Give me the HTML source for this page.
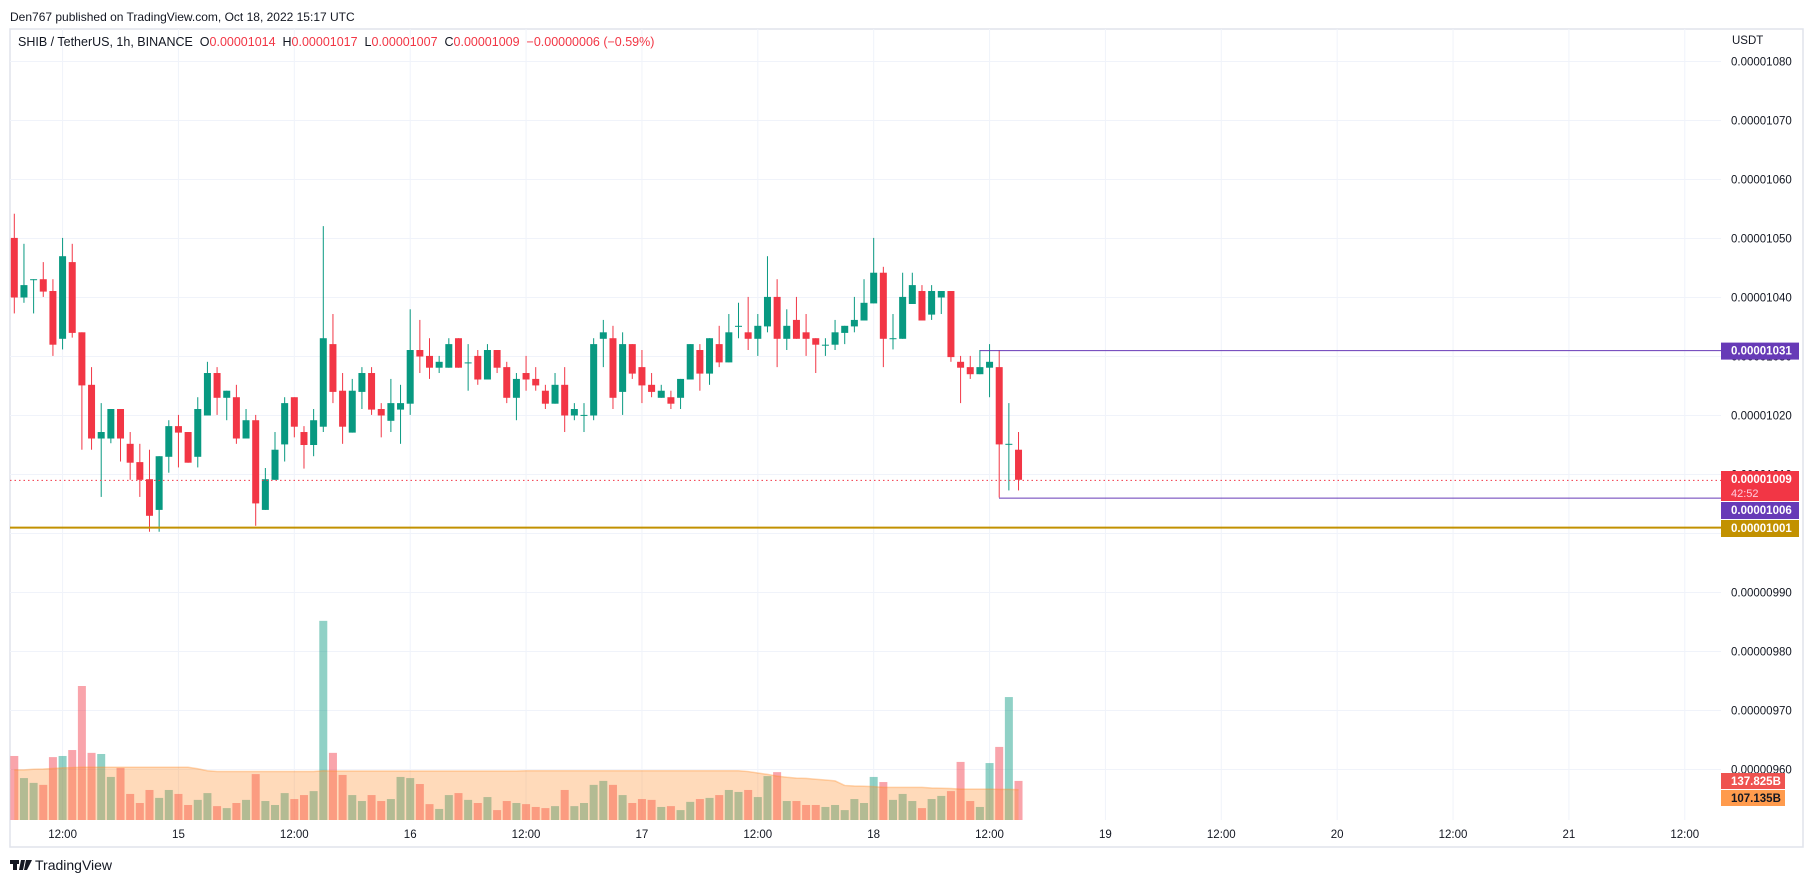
<!DOCTYPE html>
<html><head><meta charset="utf-8"><style>
html,body{margin:0;padding:0;background:#fff;width:1813px;height:883px;overflow:hidden;font-family:"Liberation Sans",sans-serif;}
svg text{font-family:"Liberation Sans",sans-serif;white-space:pre;}
</style></head><body>
<svg id="chart" width="1813" height="883" xmlns="http://www.w3.org/2000/svg">
<text x="10" y="21" font-size="12" fill="#131722">Den767 published on TradingView.com, Oct 18, 2022 15:17 UTC</text>
<rect x="10" y="29" width="1793" height="818" fill="none" stroke="#e0e3eb" stroke-width="1.5"/>
<g id="grid"></g>
<g id="vol"></g>
<g id="candles"></g>
<g id="lines"></g>
<g id="axis"></g>
<g id="taxis"></g>
<text x="18" y="46" font-size="12.5" fill="#131722" xml:space="preserve">SHIB / TetherUS, 1h, BINANCE  O<tspan fill="#f23645">0.00001014</tspan>  H<tspan fill="#f23645">0.00001017</tspan>  L<tspan fill="#f23645">0.00001007</tspan>  C<tspan fill="#f23645">0.00001009  −0.00000006 (−0.59%)</tspan></text>
<text x="1732" y="44" font-size="11.5" fill="#131722">USDT</text>
<g><rect x="10" y="860" width="9" height="4" fill="#131722"/><rect x="13" y="860" width="4" height="10" fill="#131722"/><polygon points="21,860 25,860 23,870 19,870" fill="#131722"/><polygon points="26,860 32,860 27,870 24,870" fill="#131722"/><text x="35" y="870" font-size="14" fill="#131722">TradingView</text></g>
</svg>
<script>
const opens=[1050.1,1040.0,1043.1,1043.1,1041.1,1033.0,1046.0,1034.1,1025.2,1016.1,1016.1,1021.1,1015.2,1012.1,1009.2,1004.0,1013.0,1018.2,1017.2,1013.0,1020.0,1027.2,1023.0,1023.1,1016.1,1019.2,1004.0,1009.1,1015.1,1023.1,1017.2,1015.0,1018.1,1032.1,1024.2,1017.1,1024.0,1027.2,1021.1,1019.1,1021.0,1022.0,1031.1,1030.1,1028.1,1028.1,1033.1,1029.0,1030.1,1026.1,1031.1,1028.2,1023.0,1027.2,1026.2,1024.2,1022.0,1025.2,1020.0,1020.1,1020.0,1033.0,1033.1,1024.0,1032.1,1028.2,1025.2,1023.0,1023.1,1023.0,1026.1,1031.1,1027.1,1032.1,1029.0,1035.2,1034.1,1033.0,1035.1,1040.1,1033.0,1036.2,1034.1,1033.1,1032.0,1032.0,1034.0,1035.1,1036.1,1039.0,1044.2,1033.1,1033.0,1038.9,1041.1,1037.1,1040.0,1041.1,1029.1,1028.2,1027.0,1028.1,1028.2,1015.2,1014.2];
const highs=[1054.2,1049.1,1043.1,1046.0,1043.1,1050.1,1049.1,1034.1,1028.2,1022.1,1021.1,1021.1,1017.2,1015.2,1014.2,1013.1,1019.2,1020.1,1017.2,1023.1,1029.1,1028.2,1024.2,1025.2,1021.1,1020.1,1011.1,1017.2,1023.1,1023.1,1018.2,1021.1,1052.1,1037.2,1027.2,1026.2,1028.2,1028.2,1022.1,1026.2,1025.2,1038.0,1036.2,1033.1,1030.1,1033.1,1033.1,1032.1,1031.1,1032.1,1031.1,1029.1,1027.2,1030.1,1028.2,1025.2,1027.2,1028.2,1022.1,1022.1,1033.1,1036.2,1035.2,1034.1,1032.1,1031.1,1027.2,1025.2,1024.2,1026.2,1032.1,1032.1,1033.1,1035.2,1037.2,1039.1,1040.1,1037.2,1047.0,1043.1,1038.0,1040.1,1037.2,1033.1,1033.1,1036.2,1035.2,1040.1,1043.1,1050.1,1045.2,1037.2,1044.2,1044.2,1042.1,1042.1,1041.1,1041.1,1030.1,1030.1,1031.1,1032.1,1031.1,1022.1,1017.2];
const lows=[1037.3,1039.1,1037.3,1040.1,1030.1,1031.2,1033.2,1014.2,1014.2,1006.2,1015.3,1012.2,1009.1,1006.2,1000.3,1000.3,1010.3,1011.2,1012.0,1011.2,1020.0,1020.1,1019.2,1015.2,1016.1,1001.3,1004.0,1009.1,1012.2,1016.3,1011.0,1013.1,1017.2,1022.1,1015.2,1017.1,1021.1,1020.1,1016.3,1017.2,1015.2,1020.1,1027.2,1026.2,1027.2,1028.1,1028.1,1024.2,1025.2,1026.1,1027.2,1022.1,1019.2,1024.2,1024.2,1021.1,1022.0,1017.2,1019.2,1017.2,1019.2,1028.2,1021.1,1020.1,1026.2,1022.1,1023.1,1023.0,1021.1,1021.1,1026.1,1024.2,1025.2,1028.2,1029.0,1033.1,1031.1,1030.1,1034.1,1028.2,1031.1,1033.0,1030.1,1027.2,1030.1,1031.1,1032.1,1034.1,1036.1,1039.0,1028.2,1031.2,1033.0,1038.9,1036.1,1036.2,1037.2,1029.1,1022.1,1026.2,1027.0,1023.1,1006.1,1007.3,1007.3];
const closes=[1040.0,1042.1,1043.1,1041.0,1032.0,1047.0,1034.0,1025.1,1016.1,1017.2,1021.1,1016.1,1012.0,1009.1,1003.0,1013.1,1018.2,1017.1,1012.0,1021.1,1027.2,1023.0,1024.2,1016.1,1019.2,1005.1,1009.2,1014.2,1022.1,1018.1,1015.0,1019.2,1033.1,1024.0,1018.1,1024.2,1027.2,1021.0,1020.0,1022.1,1022.1,1031.1,1030.0,1028.1,1029.1,1032.1,1028.1,1029.0,1026.1,1031.1,1028.1,1023.0,1026.2,1026.1,1025.1,1022.0,1025.2,1020.0,1021.1,1020.1,1032.1,1034.1,1023.0,1032.1,1027.1,1025.1,1024.0,1024.2,1022.0,1026.2,1032.1,1027.1,1033.1,1029.0,1034.1,1035.2,1033.0,1035.2,1040.1,1033.0,1035.2,1033.0,1033.0,1032.0,1032.0,1034.1,1035.2,1036.2,1039.1,1044.2,1033.0,1033.1,1040.1,1042.1,1036.1,1041.1,1041.1,1029.9,1028.1,1027.0,1028.2,1029.1,1015.1,1015.2,1009.1];
const volumes=[226,148,131,124,222,226,247,473,237,233,152,184,92,60,106,78,106,92,53,71,95,49,42,60,71,162,67,53,95,74,88,102,703,237,159,88,67,88,67,74,152,148,127,56,39,88,95,71,60,81,35,67,60,56,46,42,49,106,49,60,124,138,124,88,60,74,71,46,49,35,64,74,78,88,106,99,106,81,155,169,67,67,53,53,46,53,35,74,60,152,134,71,92,67,42,74,85,102,205,67,46,201,258,434,138];
const volMA=[177,177,179,180,182,184,185,186,186,186,186,186,186,186,186,186,186,186,186,181,174,171,171,171,171,171,171,171,171,171,171,171,174,173,173,173,173,173,173,173,173,173,173,173,173,173,173,173,173,173,173,173,173,174,174,174,174,174,174,174,174,174,174,174,174,174,174,174,174,174,174,174,174,174,174,174,171,166,161,155,151,148,147,144,141,138,122,120,119,118,115,115,115,115,115,113,112,111,109,109,109,109,108,108,107];
const priceTicks=[1080,1070,1060,1050,1040,1030,1020,1010,990,980,970,960];
const timeLabels=["12:00","15","12:00","16","12:00","17","12:00","18","12:00","19","12:00","20","12:00","21","12:00"];
const timeLabelHours=[12,24,36,48,60,72,84,96,108,120,132,144,156,168,180];
const firstHour=7;

const NS="http://www.w3.org/2000/svg";
function px(i){return 14.3+9.656*i;}
function hx(h){return 14.3+9.656*(h-firstHour);}
function py(p){return 61.5+(1080-p)*5.9;}
function vy(v){return 820-v/3.53;}
function mk(tag,attrs,parent){const e=document.createElementNS(NS,tag);for(const k in attrs)e.setAttribute(k,attrs[k]);parent.appendChild(e);return e;}
const G=id=>document.getElementById(id);
const GREEN="#089981",RED="#f23645";

const grid=G('grid');
for(const p of priceTicks.concat([1000])){
  const l=mk('line',{x1:10,x2:1721,y1:py(p),y2:py(p),stroke:'#f0f3fa','stroke-width':1},grid);
  
  
}
for(const h of timeLabelHours){
  const l=mk('line',{x1:hx(h),x2:hx(h),y1:29,y2:820,stroke:'#f0f3fa','stroke-width':1},grid);
  
  
}

const vol=G('vol');
for(let i=0;i<volumes.length;i++){
  const up=closes[i]>=opens[i];
  const r=mk('rect',{x:px(i)-4,y:vy(volumes[i]),width:8,height:820-vy(volumes[i]),fill:up?'rgba(8,153,129,0.45)':'rgba(242,54,69,0.45)'},vol);
  
  
}
let d='M'+px(0)+',820';
for(let i=0;i<volMA.length;i++)d+=' L'+px(i)+','+vy(volMA[i]);
d+=' L'+px(volMA.length-1)+',820 Z';
const area=mk('path',{d:d,fill:'rgba(255,140,40,0.32)',stroke:'none'},vol);


let d2='M'+px(0)+','+vy(volMA[0]);
for(let i=1;i<volMA.length;i++)d2+=' L'+px(i)+','+vy(volMA[i]);
const maLine=mk('path',{d:d2,fill:'none',stroke:'rgba(255,140,40,0.35)','stroke-width':1.5},vol);



const cg=G('candles');
for(let i=0;i<opens.length;i++){
  const up=closes[i]>=opens[i];const c=up?GREEN:RED;const x=px(i);
  const g=mk('g',{},cg);
  
  
  mk('line',{x1:x,x2:x,y1:py(highs[i]),y2:py(lows[i]),stroke:c,'stroke-width':1},g);
  const top=py(Math.max(opens[i],closes[i])),bot=py(Math.min(opens[i],closes[i]));
  mk('rect',{x:x-3.5,y:top,width:7,height:Math.max(1,bot-top),fill:c},g);
}

const lg=G('lines');
const pLine=(p,x1,col,w,name,dash)=>{const l=mk('line',{x1:x1,x2:1721,y1:py(p),y2:py(p),stroke:col,'stroke-width':w},lg);if(dash)l.setAttribute('stroke-dasharray',dash);};
pLine(1031,980,'#673ab7',1,'resistance-line');
pLine(1006,999,'#673ab7',1,'low-line');
pLine(1001,10,'#c29100',2,'support-line');
pLine(1009,10,'#f23645',1,'last-price-line','1.5 3');

const ax=G('axis');
for(const p of priceTicks){
  const t=mk('text',{x:1731,y:py(p)+4,'font-size':11.5,fill:'#131722'},ax);
  t.textContent='0.0000'+(p<1000?'0':'')+String(p);
  
  
}
function tag(y,h,bg,txt,col,name,w){
  const g=mk('g',{},ax);
  
  
  mk('rect',{x:1721,y:y,width:w||78,height:h,fill:bg},g);
  const t=mk('text',{x:1731,y:y+12,'font-size':11.5,'font-weight':'bold',fill:col},g);t.textContent=txt;return g;
}
tag(py(1031)-8,17,'#673ab7','0.00001031','#fff','resistance-price-tag');
const lt=tag(471,30,'#f23645','0.00001009','#fff','last-price-tag');
const cd=mk('text',{x:1731,y:497,'font-size':11,fill:'#fcd'},lt);cd.textContent='42:52';
tag(502,17,'#673ab7','0.00001006','#fff','low-price-tag');
tag(520,17,'#c29100','0.00001001','#fff','support-price-tag');
tag(773,16,'#ef5350','137.825B','#fff','volume-tag',64);
tag(790,16,'#ff9b4d','107.135B','#131722','volume-ma-tag',64);

const ta=G('taxis');
for(let k=0;k<timeLabels.length;k++){
  const t=mk('text',{x:hx(timeLabelHours[k]),y:838,'font-size':11.5,fill:'#131722','text-anchor':'middle'},ta);
  t.textContent=timeLabels[k];
  
  
}
</script>
</body></html>
